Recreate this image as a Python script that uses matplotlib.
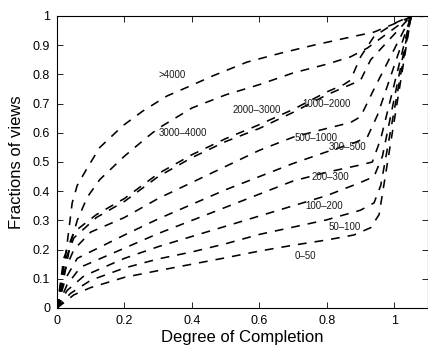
import matplotlib
matplotlib.use("Agg")
import matplotlib.pyplot as plt

plt.rcParams['font.family'] = ['Liberation Sans', 'DejaVu Sans']

series_names = ["0–50", "50–100", "100–200", "200–300", "300–500",
                "500–1000", "1000–2000", "2000–3000", "3000–4000", ">4000"]

x_0_50 = [0, 0.05, 0.1, 0.2, 0.3, 0.4, 0.5, 0.6, 0.7, 0.8, 0.88, 0.93, 0.955, 1.05, 1.1]
y_0_50 = [0, 0.045, 0.07, 0.105, 0.128, 0.15, 0.172, 0.195, 0.215, 0.233, 0.25, 0.275, 0.32, 1.0, 1.0]

x_50_100 = [0, 0.04, 0.1, 0.2, 0.3, 0.4, 0.5, 0.6, 0.7, 0.8, 0.9, 0.94, 0.96, 1.05, 1.1]
y_50_100 = [0, 0.05, 0.095, 0.137, 0.168, 0.192, 0.22, 0.252, 0.277, 0.302, 0.335, 0.36, 0.42, 1.0, 1.0]

x_100_200 = [0, 0.03, 0.08, 0.2, 0.3, 0.4, 0.5, 0.6, 0.7, 0.8, 0.9, 0.94, 0.965, 1.05, 1.1]
y_100_200 = [0, 0.06, 0.11, 0.17, 0.21, 0.245, 0.28, 0.315, 0.35, 0.385, 0.43, 0.45, 0.52, 1.0, 1.0]

x_200_300 = [0, 0.03, 0.07, 0.2, 0.3, 0.4, 0.5, 0.6, 0.7, 0.8, 0.9, 0.935, 0.96, 1.05, 1.1]
y_200_300 = [0, 0.08, 0.14, 0.205, 0.255, 0.3, 0.345, 0.39, 0.435, 0.465, 0.49, 0.5, 0.58, 1.0, 1.0]

x_300_500 = [0, 0.025, 0.06, 0.2, 0.3, 0.4, 0.5, 0.6, 0.7, 0.8, 0.88, 0.92, 0.95, 1.05, 1.1]
y_300_500 = [0, 0.1, 0.17, 0.25, 0.305, 0.355, 0.405, 0.45, 0.495, 0.535, 0.565, 0.585, 0.66, 1.0, 1.0]

x_500_1000 = [0, 0.02, 0.05, 0.1, 0.2, 0.3, 0.4, 0.5, 0.6, 0.7, 0.8, 0.87, 0.9, 0.94, 1.05, 1.1]
y_500_1000 = [0, 0.12, 0.2, 0.26, 0.31, 0.375, 0.43, 0.485, 0.54, 0.585, 0.615, 0.635, 0.655, 0.75, 1.0, 1.0]

x_1000_2000 = [0, 0.02, 0.05, 0.117, 0.2, 0.3, 0.4, 0.5, 0.6, 0.7, 0.8, 0.85, 0.9, 0.93, 1.05, 1.1]
y_1000_2000 = [0, 0.15, 0.24, 0.31, 0.365, 0.45, 0.515, 0.57, 0.615, 0.67, 0.73, 0.755, 0.78, 0.85, 1.0, 1.0]

x_2000_3000 = [0, 0.02, 0.05, 0.117, 0.2, 0.3, 0.4, 0.5, 0.6, 0.7, 0.8, 0.85, 0.87, 0.9, 0.94, 1.0, 1.05, 1.1]
y_2000_3000 = [0, 0.17, 0.26, 0.32, 0.375, 0.46, 0.525, 0.58, 0.628, 0.68, 0.74, 0.765, 0.78, 0.86, 0.93, 0.975, 1.0, 1.0]

x_3000_4000 = [0, 0.02, 0.04, 0.06, 0.09, 0.127, 0.2, 0.267, 0.3, 0.4, 0.5, 0.6, 0.7, 0.8, 0.87, 0.92, 1.05, 1.1]
y_3000_4000 = [0, 0.1, 0.22, 0.3, 0.38, 0.44, 0.52, 0.585, 0.615, 0.685, 0.73, 0.765, 0.805, 0.835, 0.86, 0.89, 1.0, 1.0]

x_4000 = [0, 0.015, 0.03, 0.045, 0.06, 0.09, 0.127, 0.196, 0.255, 0.326, 0.394, 0.462, 0.563, 0.664, 0.761, 0.859, 0.94, 1.05, 1.1]
y_4000 = [0, 0.09, 0.22, 0.36, 0.42, 0.48, 0.55, 0.625, 0.675, 0.726, 0.76, 0.795, 0.842, 0.873, 0.9, 0.925, 0.945, 0.997, 1.0]

series_x = [x_0_50, x_50_100, x_100_200, x_200_300, x_300_500,
            x_500_1000, x_1000_2000, x_2000_3000, x_3000_4000, x_4000]
series_y = [y_0_50, y_50_100, y_100_200, y_200_300, y_300_500,
            y_500_1000, y_1000_2000, y_2000_3000, y_3000_4000, y_4000]

label_x = [0.736, 0.853, 0.791, 0.812, 0.862, 0.768, 0.798, 0.593, 0.374, 0.342]
label_y = [0.178, 0.277, 0.349, 0.449, 0.551, 0.582, 0.699, 0.678, 0.598, 0.798]

x_ticks = [0, 0.2, 0.4, 0.6, 0.8, 1]
x_tick_labels = ["0", "0.2", "0.4", "0.6", "0.8", "1"]
y_ticks = [0, 0.1, 0.2, 0.3, 0.4, 0.5, 0.6, 0.7, 0.8, 0.9, 1]
y_tick_labels = ["0", "0.1", "0.2", "0.3", "0.4", "0.5", "0.6", "0.7", "0.8", "0.9", "1"]

fig = plt.figure(figsize=(4.28, 3.49), dpi=100)
ax = fig.add_axes([57/428, 41/349, 371/428, 292/349])

for xs, ys in zip(series_x, series_y):
    line, = ax.plot(xs, ys, color='black', linewidth=1.15, linestyle='--')
    line.set_dashes((5.5, 5.0))

for name, lx, ly in zip(series_names, label_x, label_y):
    ax.text(lx, ly, name, fontsize=7, ha='center', va='center', color='#1a1a1a')

ax.set_xlim(0, 1.1)
ax.set_ylim(0, 1)
ax.set_xticks(x_ticks)
ax.set_xticklabels(x_tick_labels)
ax.set_yticks(y_ticks)
ax.set_yticklabels(y_tick_labels)
ax.tick_params(direction='in', top=True, right=True, length=4, width=0.6,
               labelsize=9, pad=5)
for s in ax.spines.values():
    s.set_linewidth(0.8)
ax.set_xlabel("Degree of Completion", fontsize=12, labelpad=2)
ax.set_ylabel("Fractions of views", fontsize=12, labelpad=6)

fig.savefig("out.png", dpi=100)
